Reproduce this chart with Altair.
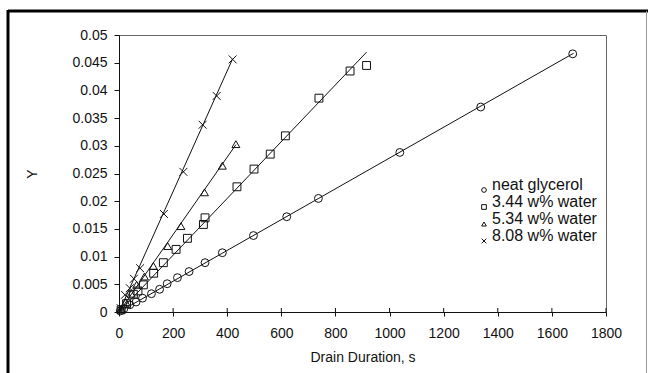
import altair as alt
import pandas as pd

series_names = ["neat glycerol", "3.44 w% water", "5.34 w% water", "8.08 w% water"]

neat_x = [5, 18, 40, 63, 87, 120, 150, 178, 216, 259, 318, 382, 497, 620, 737, 1038, 1337, 1677]
neat_y = [0.0002, 0.0006, 0.0013, 0.0018, 0.0025, 0.0033, 0.0041, 0.0051, 0.0062, 0.0073,
          0.0089, 0.0107, 0.0138, 0.0172, 0.0205, 0.0288, 0.0370, 0.0466]

w344_x = [8, 28, 53, 70, 90, 128, 164, 211, 253, 312, 318, 436, 499, 559, 615, 739, 854, 915]
w344_y = [0.0004, 0.0015, 0.0032, 0.0038, 0.0049, 0.0070, 0.0089, 0.0113, 0.0133, 0.0158,
          0.0170, 0.0226, 0.0258, 0.0285, 0.0318, 0.0386, 0.0435, 0.0445]

w534_x = [8, 25, 45, 65, 94, 127, 180, 229, 316, 382, 432]
w534_y = [0.0006, 0.0018, 0.0033, 0.0049, 0.0064, 0.0083, 0.0119, 0.0155, 0.0216, 0.0264, 0.0303]

w808_x = [6, 22, 40, 55, 78, 166, 238, 309, 361, 420]
w808_y = [0.0007, 0.0031, 0.0043, 0.0060, 0.0079, 0.0177, 0.0253, 0.0338, 0.0390, 0.0456]

# fitted straight lines through the origin: end points
fit_end_x = [1680, 915, 432, 420]
fit_end_y = [0.0467, 0.0469, 0.0302, 0.0457]

x_ticks = [0, 200, 400, 600, 800, 1000, 1200, 1400, 1600, 1800]
y_ticks = [0, 0.005, 0.01, 0.015, 0.02, 0.025, 0.03, 0.035, 0.04, 0.045, 0.05]

W, H = 487, 277
INK = "#111111"
FONT = "Liberation Sans"

rows = []
for name, xs, ys in zip(series_names, [neat_x, w344_x, w534_x, w808_x],
                        [neat_y, w344_y, w534_y, w808_y]):
    for a, b in zip(xs, ys):
        rows.append({"series": name, "t": a, "Y": b})
pts = pd.DataFrame(rows)

lrows = []
for name, ex, ey in zip(series_names, fit_end_x, fit_end_y):
    lrows.append({"series": name, "t": 0, "Y": 0.0, "o": 0})
    lrows.append({"series": name, "t": ex, "Y": ey, "o": 1})
lines_df = pd.DataFrame(lrows)

xscale = alt.Scale(domain=[0, 1800], nice=False, zero=True)
yscale = alt.Scale(domain=[0, 0.05], nice=False, zero=True)

x_axis = alt.Axis(values=x_ticks, title="Drain Duration, s", format="d", labelFlush=False,
                  labelOverlap=False, tickSize=4, labelPadding=10, titlePadding=10, grid=False)
y_axis = alt.Axis(values=y_ticks, title="Y", format=".3~f", labelFlush=False, labelOverlap=False,
                  tickSize=5, labelPadding=7, titlePadding=32, grid=False)

X = alt.X("t:Q", scale=xscale, axis=x_axis)
Y = alt.Y("Y:Q", scale=yscale, axis=y_axis)

shape_scale = alt.Scale(domain=series_names,
                        range=["circle", "square", "triangle-up", "M-1,-1L1,1M-1,1L1,-1"])

lines = alt.Chart(lines_df).mark_line(color=INK, strokeWidth=1).encode(
    x=X, y=Y,
    detail="series:N",
    order="o:Q",
)

points = alt.Chart(pts).mark_point(filled=False, color=INK, strokeWidth=1, size=62, opacity=1).encode(
    x=X, y=Y,
    shape=alt.Shape("series:N", scale=shape_scale, sort=series_names,
                    legend=alt.Legend(title=None, orient="none", legendX=357, legendY=147,
                                      labelFontSize=16, labelFont=FONT, labelColor=INK,
                                      symbolSize=22, symbolStrokeColor=INK, symbolFillColor="transparent",
                                      symbolStrokeWidth=1, labelOffset=0, rowPadding=-1, padding=0,
                                      labelBaseline="alphabetic")),
)

inner_ticks = alt.Chart(pd.DataFrame({"t": x_ticks})).mark_rule(color=INK, strokeWidth=1).encode(
    x=X,
    y=alt.value(H - 4),
    y2=alt.value(H),
)

frame_top = alt.Chart(alt.Data(values=[{}])).mark_rule(color="#000000", strokeWidth=3).encode(
    x=alt.value(-111), x2=alt.value(529), y=alt.value(-24), y2=alt.value(-24))
frame_left = alt.Chart(alt.Data(values=[{}])).mark_rule(color="#000000", strokeWidth=3).encode(
    x=alt.value(-111), x2=alt.value(-111), y=alt.value(-25), y2=alt.value(340))
frame_right = alt.Chart(alt.Data(values=[{}])).mark_rule(color="#999999", strokeWidth=1).encode(
    x=alt.value(527.5), x2=alt.value(527.5), y=alt.value(-24), y2=alt.value(340))

chart = alt.layer(lines, points, inner_ticks, frame_top, frame_left, frame_right).properties(
    width=W, height=H,
    autosize=alt.AutoSizeParams(type="none"),
    padding={"left": 119, "top": 35, "right": 42, "bottom": 61},
    background="white",
).configure_view(
    stroke="#666666", strokeWidth=1
).configure_axis(
    labelFont=FONT, titleFont=FONT, labelFontSize=14, titleFontSize=14,
    titleFontWeight="normal", labelColor=INK, titleColor=INK,
    domainColor=INK, tickColor=INK, domainWidth=1, tickWidth=1,
)

chart.save("out.html", embed_options={"renderer": "svg", "actions": False})
